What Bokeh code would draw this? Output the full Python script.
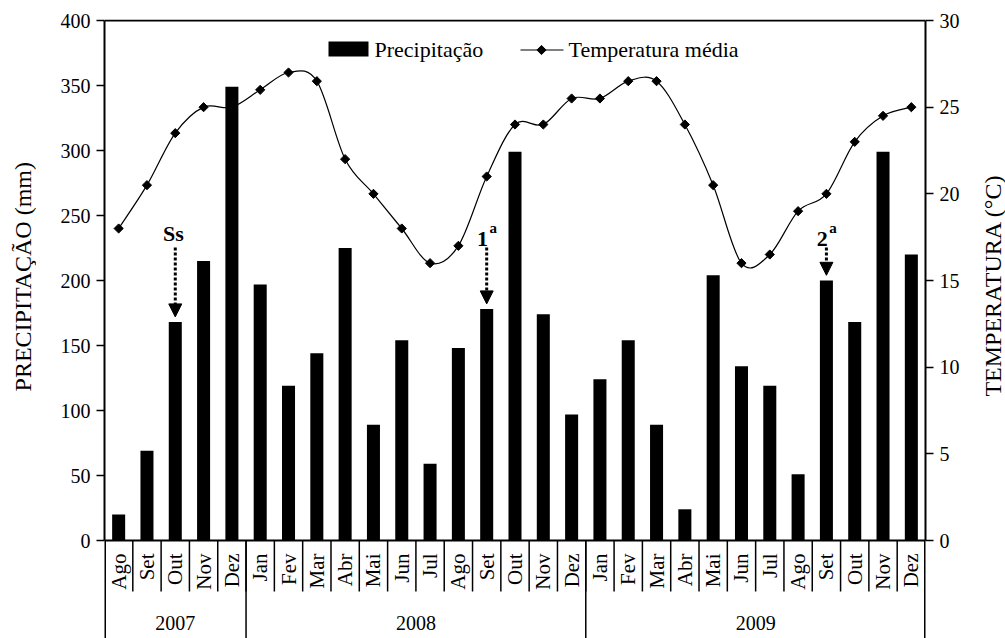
import math
import numpy as np
from bokeh.plotting import figure
from bokeh.layouts import row
from bokeh.models import Range1d, LinearAxis, FixedTicker, Arrow, NormalHead
from bokeh.core.properties import value
from bokeh.embed import file_html
from bokeh.resources import INLINE

# ---------------- data ----------------
months = ["Ago", "Set", "Out", "Nov", "Dez",
          "Jan", "Fev", "Mar", "Abr", "Mai", "Jun", "Jul", "Ago", "Set", "Out", "Nov", "Dez",
          "Jan", "Fev", "Mar", "Abr", "Mai", "Jun", "Jul", "Ago", "Set", "Out", "Nov", "Dez"]
years = ["2007", "2008", "2009"]
year_counts = [5, 12, 12]
precip = [20, 69, 168, 215, 349,
          197, 119, 144, 225, 89, 154, 59, 148, 178, 299, 174, 97,
          124, 154, 89, 24, 204, 134, 119, 51, 200, 168, 299, 220]
temp = [18.0, 20.5, 23.5, 25.0, 25.0,
        26.0, 27.0, 26.5, 22.0, 20.0, 18.0, 16.0, 17.0, 21.0, 24.0, 24.0, 25.5,
        25.5, 26.5, 26.5, 24.0, 20.5, 16.0, 16.5, 19.0, 20.0, 23.0, 24.5, 25.0]
annot_text = ["Ss", "1", "2"]
annot_idx = [2, 13, 25]
precip_ticks = [0, 50, 100, 150, 200, 250, 300, 350, 400]
temp_ticks = [0, 5, 10, 15, 20, 25, 30]
left_title = "PRECIPITAÇÃO  (mm)"
right_title = "TEMPERATURA  (°C)"

FONT = "Liberation Serif"

# ---------------- layout (page pixels) ----------------
TOTAL_W, H = 1005, 638
LW = 36                    # left title strip width
RW = 30                    # right title strip width
MW = TOTAL_W - LW - RW     # main figure width
FL, FR = 104, 925          # frame left/right (page px)
FT = 19                    # frame top
PX = 520.0 / 400.0         # px per mm
n = len(months)
ytop = 400 + 1 / PX
ybot = ytop - (H - FT) / PX
tscale = 30.0 / 400.0

def dx(px):
    return -0.5 + (px - FL) / ((FR - FL) / n)

def dy(py):
    return (540 - py) / PX

p = figure(width=MW, height=H, x_range=Range1d(-0.5, n - 0.5), y_range=Range1d(ybot, ytop),
           output_backend="svg", toolbar_location=None, x_axis_location=None,
           min_border_left=FL - LW, min_border_right=(TOTAL_W - RW) - FR,
           min_border_top=FT, min_border_bottom=0)
p.extra_y_ranges = {"temp": Range1d(ybot * tscale, ytop * tscale)}
p.grid.visible = False
p.outline_line_color = None
p.background_fill_color = "white"
p.border_fill_color = "white"

def style_axis(ax):
    ax.axis_line_width = 2
    ax.axis_line_color = "black"
    ax.major_tick_line_width = 1.5
    ax.major_tick_line_color = "black"
    ax.major_tick_out = 8
    ax.major_tick_in = 0
    ax.minor_tick_out = 0
    ax.minor_tick_in = 0
    ax.major_label_text_font = FONT
    ax.major_label_text_font_size = "20px"
    ax.major_label_text_color = "black"
    ax.major_label_standoff = 6

left = p.yaxis[0]
left.ticker = FixedTicker(ticks=precip_ticks)
left.bounds = (0, 400)
style_axis(left)

right = LinearAxis(y_range_name="temp", ticker=FixedTicker(ticks=temp_ticks), bounds=(0, 30))
style_axis(right)
p.add_layout(right, "right")

xs = np.arange(n)

# ---------------- temperature smooth line ----------------
t = np.array(temp, dtype=float)
xp = np.concatenate([[xs[0]], xs, [xs[-1]]]).astype(float)
tp = np.concatenate([[t[0]], t, [t[-1]]])
i = np.arange(n - 1)
p.bezier(x0=xp[i + 1], y0=tp[i + 1], x1=xp[i + 2], y1=tp[i + 2],
         cx0=xp[i + 1] + (xp[i + 2] - xp[i]) / 6, cy0=tp[i + 1] + (tp[i + 2] - tp[i]) / 6,
         cx1=xp[i + 2] - (xp[i + 3] - xp[i + 1]) / 6, cy1=tp[i + 2] - (tp[i + 3] - tp[i + 1]) / 6,
         line_color="black", line_width=1.2, y_range_name="temp")

# ---------------- bars ----------------
p.vbar(x=xs, top=precip, bottom=0, width=0.46, fill_color="black", line_color=None)

p.scatter(x=xs, y=temp, marker="square", angle=math.pi / 4, size=6.5,
          fill_color="black", line_color="black", y_range_name="temp")

# ---------------- frame lines ----------------
p.segment(x0=[-0.5], y0=[0], x1=[n - 0.5], y1=[0], line_color="black", line_width=2)
p.segment(x0=[-0.5], y0=[400], x1=[n - 0.5], y1=[400], line_color="black", line_width=2)

# ---------------- bottom table ----------------
y_month_bottom = dy(591)
seps = [k - 0.5 for k in range(1, n)]
p.segment(x0=seps, y0=[0] * len(seps), x1=seps, y1=[y_month_bottom] * len(seps),
          line_color="black", line_width=1.5)
bounds_x = [-0.5]
for c in year_counts:
    bounds_x.append(bounds_x[-1] + c)
inner = bounds_x[1:-1]
p.segment(x0=inner, y0=[0] * len(inner), x1=inner, y1=[ybot] * len(inner),
          line_color="black", line_width=1.5)
p.segment(x0=[bounds_x[0], bounds_x[-1]], y0=[0, 0], x1=[bounds_x[0], bounds_x[-1]], y1=[ybot, ybot],
          line_color="black", line_width=3)

p.text(x=xs, y=[dy(553)] * n, text=months, angle=math.pi / 2,
       text_align="right", text_baseline="middle",
       text_font=value(FONT), text_font_size="21px", text_color="black")
year_centers = [bounds_x[k] + year_counts[k] / 2 for k in range(len(years))]
p.text(x=year_centers, y=[dy(622)] * len(years), text=years,
       text_align="center", text_baseline="alphabetic",
       text_font=value(FONT), text_font_size="20px", text_color="black")

# ---------------- legend ----------------
p.quad(left=[dx(328)], right=[dx(368)], top=[dy(41)], bottom=[dy(56)],
       fill_color="black", line_color=None)
p.text(x=[dx(374)], y=[dy(48.5)], text=["Precipitação"], text_align="left", text_baseline="middle",
       text_font=value(FONT), text_font_size="22px", text_color="black")
p.line(x=[dx(520), dx(563)], y=[dy(49.5), dy(49.5)], line_color="black", line_width=1.2)
p.scatter(x=[dx(541)], y=[dy(49.5)], marker="square", angle=math.pi / 4, size=6.5,
          fill_color="black", line_color="black")
p.text(x=[dx(568)], y=[dy(48.5)], text=["Temperatura média"], text_align="left", text_baseline="middle",
       text_font=value(FONT), text_font_size="22px", text_color="black")

# ---------------- annotations ----------------
for lab, k in zip(annot_text, annot_idx):
    p.add_layout(Arrow(x_start=k, y_start=dy(247), x_end=k, y_end=precip[k] + 4,
                       line_color="black", line_width=3, line_dash="3 2",
                       end=NormalHead(size=13, fill_color="black", line_color="black", line_width=1)))
    if lab == "Ss":
        p.text(x=[k - 0.07], y=[dy(233)], text=[lab], text_align="center", text_baseline="alphabetic",
               text_font=value(FONT), text_font_size="22px", text_font_style="bold", text_color="black")
    else:
        p.text(x=[k + 0.05], y=[dy(238)], text=[lab], text_align="right", text_baseline="alphabetic",
               text_font=value(FONT), text_font_size="22px", text_font_style="bold", text_color="black")
        p.text(x=[k + 0.1], y=[dy(227)], text=["a"], text_align="left", text_baseline="alphabetic",
               text_font=value(FONT), text_font_size="15px", text_font_style="bold", text_color="black")

# ---------------- axis title strips ----------------
def title_strip(width, text, cx, cy):
    f = figure(width=width, height=H, x_range=Range1d(0, width), y_range=Range1d(0, H),
               output_backend="svg", toolbar_location=None,
               x_axis_location=None, y_axis_location=None, min_border=0)
    f.grid.visible = False
    f.outline_line_color = None
    f.background_fill_color = "white"
    f.border_fill_color = "white"
    f.text(x=[cx], y=[H - cy], text=[text], angle=math.pi / 2,
           text_align="center", text_baseline="middle",
           text_font=value(FONT), text_font_size="24px", text_color="black")
    return f

lf = title_strip(LW, left_title, 22, 262)
rf = title_strip(RW, right_title, 992 - (TOTAL_W - RW), 271)

layout = row(lf, p, rf, spacing=0)
open("out.html", "w").write(file_html(layout, INLINE))
